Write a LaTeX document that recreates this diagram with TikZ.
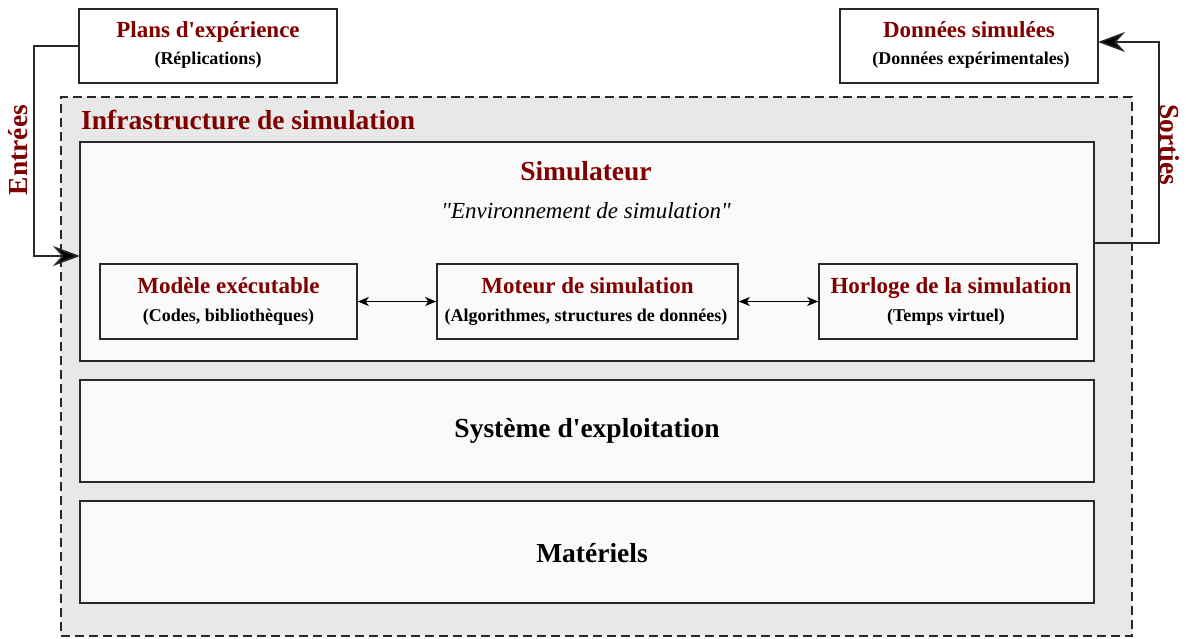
\documentclass[tikz,border=0pt]{standalone}
\usepackage{fontspec}
\setmainfont{Liberation Serif}[Ligatures=TeXOff]
\usetikzlibrary{arrows.meta}
\definecolor{dred}{RGB}{128,0,0}
\definecolor{lineg}{RGB}{40,40,40}
\definecolor{outerfill}{RGB}{232,232,232}
\definecolor{innerfill}{RGB}{250,250,250}
\tikzset{
  frame/.style={draw=lineg, line width=1.6pt, inner sep=0pt},
  whitebox/.style={frame, fill=white},
  graybox/.style={frame, fill=innerfill},
  titletxt/.style={text=dred, font=\bfseries\fontsize{23}{25}\selectfont, inner sep=0pt, anchor=base},
  subtxt/.style={text=black, font=\bfseries\fontsize{18}{20}\selectfont, inner sep=0pt, anchor=base},
  bigtxt/.style={font=\bfseries\fontsize{27.5}{30}\selectfont, inner sep=0pt},
  bigarrow/.style={draw=lineg, line width=1.6pt, -{Stealth[length=27pt,width=20pt,inset=9pt,fill=black]}},
  duo/.style={draw=black, line width=1.2pt, {Stealth[length=11pt,width=9pt,inset=3pt]}-{Stealth[length=11pt,width=9pt,inset=3pt]}},
}
\begin{document}
\begin{tikzpicture}[x=1pt,y=-1pt]
\useasboundingbox (0,0) rectangle (1186,638);
% outer dashed infrastructure
\node[draw=lineg, line width=1.4pt, dash pattern=on 9pt off 5pt, fill=outerfill, minimum width=1071pt, minimum height=539pt, inner sep=0pt] (infra) at (596.5,366.5) {};
\node[bigtxt, text=dred, anchor=west] (infratxt) at (81,120) {Infrastructure de simulation};
% top boxes
\node[whitebox, minimum width=258pt, minimum height=74pt] (plans) at (208,46) {};
\node[titletxt] (planst) at (208,37.5) {Plans d'expérience};
\node[subtxt] (planss) at (208,64) {(Réplications)};
\node[whitebox, minimum width=258pt, minimum height=74pt] (donnees) at (969,46) {};
\node[titletxt] (donneest) at (969,37.5) {Données simulées};
\node[subtxt] (donneess) at (971,64) {(Données expérimentales)};
% simulateur
\node[graybox, minimum width=1014pt, minimum height=219pt] (sim) at (587,251.5) {};
\node[bigtxt, text=dred, anchor=base] (simt) at (586,180) {Simulateur};
\node[inner sep=0pt, anchor=base, font=\itshape\fontsize{23}{25}\selectfont] (simenv) at (586,218) {"Environnement de simulation"};
% inner boxes
\node[graybox, minimum width=257pt, minimum height=75pt] (modele) at (228.5,301.5) {};
\node[titletxt] (modelet) at (228.5,293) {Modèle exécutable};
\node[subtxt] (modeles) at (228.5,321.5) {(Codes, bibliothèques)};
\node[graybox, minimum width=301pt, minimum height=75pt] (moteur) at (587.5,301.5) {};
\node[titletxt] (moteurt) at (587.5,293) {Moteur de simulation};
\node[subtxt] (moteurs) at (586,321.5) {(Algorithmes, structures de données)};
\node[graybox, minimum width=258pt, minimum height=75pt] (horloge) at (948,301.5) {};
\node[titletxt] (horloget) at (951,293) {Horloge de la simulation};
\node[subtxt] (horloges) at (946,321.5) {(Temps virtuel)};
\draw[duo] (modele.east) -- (moteur.west);
\draw[duo] (moteur.east) -- (horloge.west);
% layers
\node[graybox, minimum width=1014pt, minimum height=102pt] (os) at (587,431) {};
\node[bigtxt] (ost) at (587,431) {Système d'exploitation};
\node[graybox, minimum width=1014pt, minimum height=102pt] (hw) at (587,552) {};
\node[bigtxt] (hwt) at (592,553) {Matériels};
% connectors
\coordinate (inpt) at (80,256);
\draw[bigarrow] (plans.west) -- ++(-44,0) |- (inpt);
\node[bigtxt, text=dred, rotate=90] (entrees) at (18,150) {Entrées};
\coordinate (outpt) at (1094,243);
\coordinate (dout) at (1098,42);
\draw[bigarrow] (outpt) -- (1159,243) |- (dout);
\node[bigtxt, text=dred, rotate=-90] (sorties) at (1170,145) {Sorties};
\end{tikzpicture}
\end{document}
